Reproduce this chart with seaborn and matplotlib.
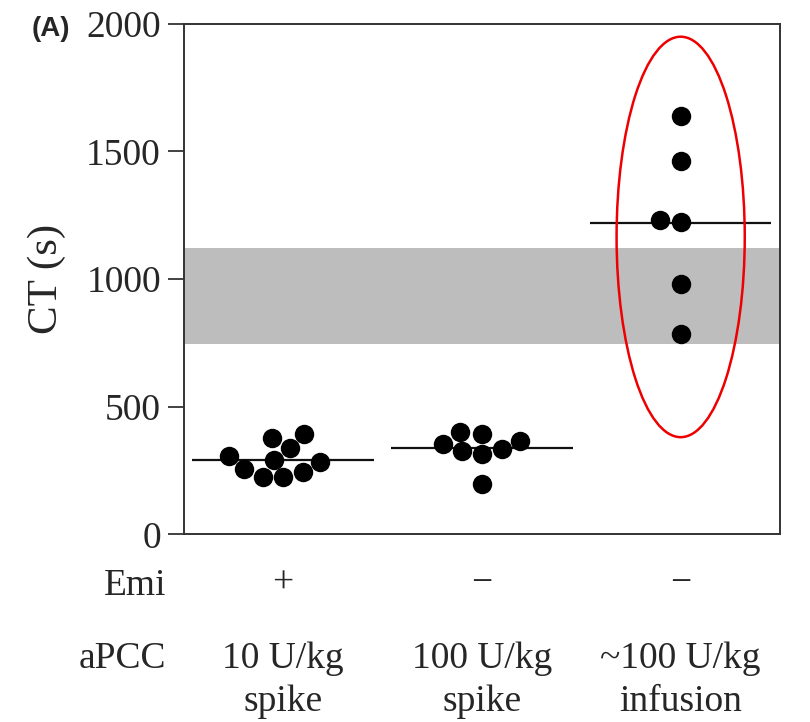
import numpy as np
import pandas as pd
import matplotlib
matplotlib.use("Agg")
import matplotlib.pyplot as plt
from matplotlib.patches import Ellipse
import seaborn as sns

# Clotting time (s) per animal, grouped by treatment
groups = ["10 U/kg\nspike", "100 U/kg\nspike", "~100 U/kg\ninfusion"]
emi_status = ["+", "\u2212", "\u2212"]
ct_10_spike = [290, 254, 376, 223, 337, 223, 391, 243, 282, 305]
ct_100_spike = [394, 355, 326, 316, 198, 335, 365, 402]
ct_100_infusion = [1640, 1464, 1233, 1225, 982, 783]

# Reference range shown as a shaded band
ref_low, ref_high = 745, 1120
yticks = [0, 500, 1000, 1500, 2000]

df = pd.DataFrame({
    "group": [groups[0]] * len(ct_10_spike)
    + [groups[1]] * len(ct_100_spike)
    + [groups[2]] * len(ct_100_infusion),
    "ct": ct_10_spike + ct_100_spike + ct_100_infusion,
})

sns.set_theme(style="ticks")
plt.rcParams["font.family"] = ["Liberation Serif", "DejaVu Serif"]
FS = 27

fig = plt.figure(figsize=(8.1, 7.22), dpi=100)
ax = fig.add_axes([0.227, 0.260, 0.736, 0.707])

ax.axhspan(ref_low, ref_high, color="#bdbdbd", lw=0, zorder=0)

sns.swarmplot(data=df, x="group", y="ct", order=groups, color="black",
              size=14, linewidth=0, ax=ax, zorder=3)

# Group means as horizontal bars
means = df.groupby("group", sort=False)["ct"].mean().reindex(groups)
half = 0.457
for i, m in enumerate(means):
    ax.hlines(m, i - half, i + half, color="#111111", lw=1.6, zorder=2)

# Highlight of the infusion group
ax.add_patch(Ellipse((2.0, 1165), width=0.645, height=1569, fill=False,
                     edgecolor="#ee0000", lw=1.8, zorder=4))

ax.set_xlim(-0.5, 2.5)
ax.set_ylim(0, 2000)
ax.set_yticks(yticks)
ax.set_yticklabels([str(t) for t in yticks], fontsize=FS)
ax.set_xticks([])
ax.set_xlabel("")
ax.set_ylabel("CT (s)", fontsize=31)
ax.yaxis.set_label_coords(-0.198, 0.5)
ax.tick_params(axis="y", direction="out", length=11.5, width=1.3,
               color="#333333", pad=5)
for s in ax.spines.values():
    s.set_visible(True)
    s.set_color("#333333")
    s.set_linewidth(1.4)

# Treatment rows below the axis
trans = matplotlib.transforms.blended_transform_factory(ax.transData, ax.transAxes)
for i, (sign, lab) in enumerate(zip(emi_status, groups)):
    ax.text(i, -0.115, sign, transform=trans, ha="center", va="baseline",
            fontsize=FS)
    line1, line2 = lab.split("\n")
    ax.text(i, -0.261, line1, transform=trans, ha="center", va="baseline",
            fontsize=FS)
    ax.text(i, -0.347, line2, transform=trans, ha="center", va="baseline",
            fontsize=FS)
ax.text(-0.03, -0.1196, "Emi", transform=ax.transAxes, ha="right",
        va="baseline", fontsize=FS)
ax.text(-0.03, -0.261, "aPCC", transform=ax.transAxes, ha="right",
        va="baseline", fontsize=FS)

fig.text(0.039, 0.960, "(A)", fontsize=20, fontweight="bold",
         family=["Liberation Sans", "DejaVu Sans"], ha="left", va="center")

fig.savefig("out.png", dpi=100)
